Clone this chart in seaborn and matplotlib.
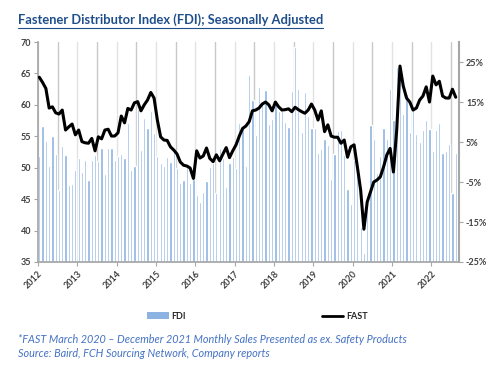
import numpy as np
import pandas as pd
import matplotlib
matplotlib.use('Agg')
import matplotlib.pyplot as plt
import seaborn as sns
from matplotlib.lines import Line2D
from matplotlib.patches import Patch

# monthly data, Jan 2012 .. Aug 2022
fdi = [51.8, 56.7, 54.3, 50.3, 55.1, 52.2, 46.4, 53.4, 52.1, 47.3, 47.4, 49.7,
       51.5, 49.4, 51.2, 48.1, 51.3, 52.0, 51.1, 53.1, 49.0, 53.2, 53.1, 51.3,
       51.9, 52.2, 51.5, 57.1, 49.7, 50.2, 59.4, 52.9, 57.9, 56.4, 59.0, 55.5,
       51.9, 50.7, 50.3, 51.7, 50.9, 52.7, 49.9, 47.6, 48.1, 50.1, 47.5, 48.2,
       45.6, 44.5, 46.1, 47.9, 50.1, 50.7, 46.0, 53.2, 51.6, 47.0, 50.7, 51.7,
       49.9, 57.1, 56.4, 50.3, 64.7, 60.8, 55.2, 62.8, 60.2, 62.3, 57.0, 57.7,
       60.8, 59.0, 59.0, 57.3, 56.5, 62.2, 69.2, 62.5, 55.7, 62.1, 58.3, 56.4,
       56.4, 52.4, 53.0, 54.6, 53.6, 48.2, 52.2, 55.9, 56.0, 52.0, 46.6, 44.3,
       51.3, 49.8, 40.5, 36.4, 45.0, 56.8, 54.6, 49.1, 51.9, 56.4, 54.5, 62.5,
       57.6, 66.1, 65.8, 58.5, 61.8, 55.7, 59.2, 55.4, 54.1, 56.0, 57.6, 56.2,
       52.6, 56.0, 57.1, 52.4, 52.6, 53.7, 46.0, 52.4]

fast = [21.2, 19.9, 18.4, 13.5, 13.8, 12.3, 12.0, 13.0, 8.0, 8.8, 9.5, 6.8,
        8.0, 5.1, 4.8, 4.7, 5.9, 2.8, 6.3, 5.8, 8.0, 8.2, 6.5, 6.5,
        7.3, 11.5, 9.8, 13.4, 13.0, 14.8, 15.1, 12.8, 14.3, 15.5, 17.4, 16.0,
        10.5, 6.3, 5.5, 5.4, 3.8, 3.0, 2.0, 0.0, -0.8, -1.0, -1.5, -4.1,
        2.8, 1.0, 1.5, 3.5, 0.9, 0.1, 1.8, 0.3, 2.0, 3.6, 1.1, 2.8,
        4.3, 6.5, 8.4, 9.0, 10.1, 12.8, 13.0, 13.5, 14.5, 15.0, 14.3, 12.8,
        15.0, 13.8, 13.0, 13.1, 13.3, 12.6, 13.7, 13.1, 12.6, 12.2, 13.0, 14.5,
        13.0, 10.5, 12.8, 7.6, 9.3, 6.5, 6.2, 6.2, 4.7, 5.5, 1.2, 3.8,
        4.3, -1.2, -7.0, -16.8, -10.0, -7.5, -5.0, -4.5, -3.7, -1.2, 1.8, 3.4,
        -2.5, 8.0, 24.0, 19.0, 16.0, 15.0, 13.0, 13.5, 15.5, 16.5, 18.8, 15.0,
        21.5, 19.3, 20.2, 16.5, 16.0, 16.0, 18.2, 16.2]

years = [str(y) for y in range(2012, 2023)]
left_ticks = [35, 40, 45, 50, 55, 60, 65, 70]
right_ticks = [-25, -15, -5, 5, 15, 25]

df = pd.DataFrame({'month': np.arange(len(fdi)), 'FDI': fdi, 'FAST': fast})

sns.set_theme(style='white')
plt.rcParams['font.family'] = ['Lato', 'DejaVu Sans']

bar_color = '#8DB3E2'
axis_gray = '#A6A6A6'
label_color = '#404040'

fig = plt.figure(figsize=(5, 3.69), dpi=100)
ax = fig.add_axes([0.076, 0.29, 0.842, 0.596])

# half-year gridlines (January lighter, July darker)
for k in range(0, 22):
    ax.axvline(6 * k - 0.4, color='#E3E3E3' if k % 2 == 0 else '#C8C8C8', lw=1, zorder=0)

sns.barplot(data=df, x='month', y='FDI', color=bar_color, saturation=1,
            width=0.68, ax=ax, zorder=2)
ax.set_ylim(35, 70)
ax.set_xlim(-0.4, 128.0)
ax.set_yticks(left_ticks)
ax.set_yticklabels([str(v) for v in left_ticks])
ax.set_xticks([12 * k - 0.4 for k in range(len(years))])
ax.set_xticklabels(years, rotation=45, ha='right', rotation_mode='anchor')
ax.set_xlabel('')
ax.set_ylabel('')

ax2 = ax.twinx()
sns.lineplot(data=df, x='month', y='FAST', color='black', lw=2.2, ax=ax2)
ax2.set_ylim(-25, 30)
ax2.set_yticks(right_ticks)
ax2.set_yticklabels([f'{v}%' for v in right_ticks])
ax2.set_xlim(-0.4, 128.0)
ax2.set_ylabel('')

for a in (ax, ax2):
    a.spines['top'].set_visible(False)
    for s in a.spines.values():
        s.set_color(axis_gray)
ax.spines['right'].set_visible(False)
ax2.spines['left'].set_visible(False)
ax2.spines['bottom'].set_visible(False)
ax2.spines['right'].set_linewidth(1.5)

ax.tick_params(axis='both', which='both', length=3, width=0.8, color=axis_gray,
               labelsize=6.5, labelcolor=label_color, pad=2, left=True, bottom=True)
ax2.tick_params(axis='y', length=3, width=0.8, color=axis_gray, labelsize=6.5,
                labelcolor=label_color, pad=2, right=True)
for t in ax.get_xticklabels() + ax.get_yticklabels() + ax2.get_yticklabels():
    t.set_fontweight('bold')

handles = [Patch(facecolor=bar_color, edgecolor='none'),
           Line2D([], [], color='black', lw=2)]
fig.legend(handles, ['FDI', 'FAST'], loc='center', bbox_to_anchor=(0.515, 0.143),
           ncol=2, frameon=False, columnspacing=15, handlelength=2.4,
           handletextpad=0.3, prop={'size': 6.5, 'weight': 'bold'})

title_color = '#1F4E8C'
title = fig.text(0.036, 0.946, 'Fastener Distributor Index (FDI); Seasonally Adjusted',
                 fontsize=9.3, fontweight='bold', color=title_color, va='center', ha='left')

note_color = '#4472C4'
fig.text(0.036, 0.079, '*FAST March 2020 \u2013 December 2021 Monthly Sales Presented as ex. Safety Products',
         fontsize=7.85, style='italic', color=note_color, va='center')
fig.text(0.036, 0.041, 'Source: Baird, FCH Sourcing Network, Company reports',
         fontsize=7.85, style='italic', color=note_color, va='center')

# underline the title
fig.canvas.draw()
bb = title.get_window_extent().transformed(fig.transFigure.inverted())
fig.add_artist(Line2D([bb.x0, bb.x1], [bb.y0 - 0.004, bb.y0 - 0.004],
                      transform=fig.transFigure, color=title_color, lw=0.8))

fig.savefig('out.png', dpi=100)
